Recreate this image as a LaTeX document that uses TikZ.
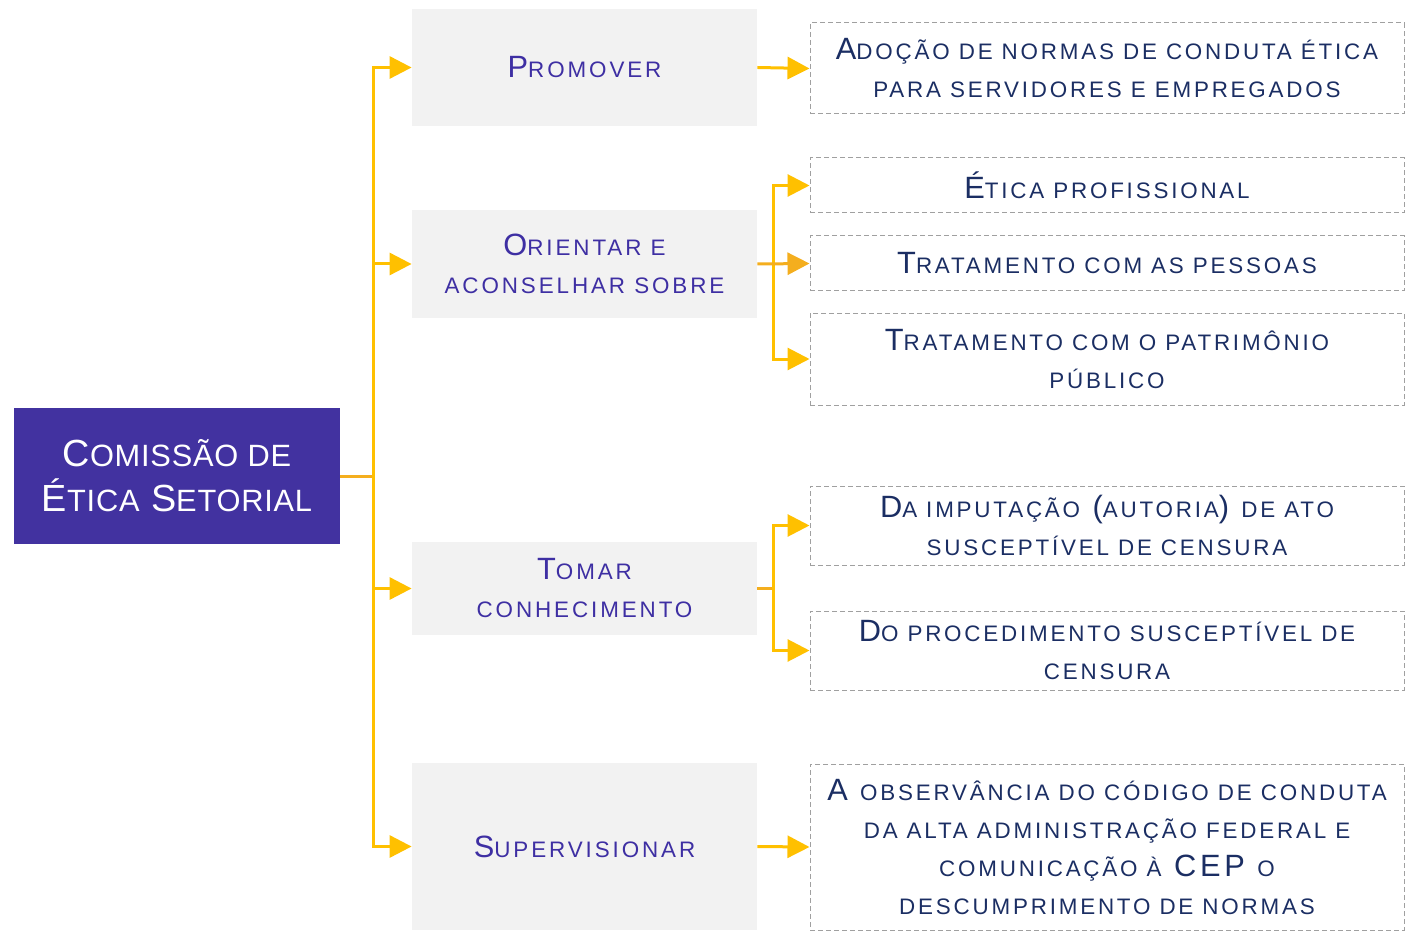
\documentclass[tikz,border=0pt]{standalone}
\usepackage{fontspec}
\setmainfont{Liberation Sans}
\newfontfamily\rootfont[LetterSpace=2.5]{Liberation Sans}
\newfontfamily\verbfont[LetterSpace=13]{Liberation Sans}
\newfontfamily\itemfont[LetterSpace=12.5]{Liberation Sans}
\usetikzlibrary{arrows.meta}

\definecolor{rootblue}{HTML}{4232A0}
\definecolor{verbtext}{HTML}{3E2FA3}
\definecolor{verbfill}{HTML}{F2F2F2}
\definecolor{itemtext}{HTML}{1B2E63}
\definecolor{itemline}{HTML}{A0A0A0}
\definecolor{linkyellow}{HTML}{FFC000}
\definecolor{linkorange}{HTML}{F4AE1E}

\newcommand{\sm}[1]{{\fontsize{11.2}{19}\selectfont #1}}
\newcommand{\smroot}[1]{{\fontsize{15.4}{22.5}\selectfont #1}}

\tikzset{
  x=0.5pt, y=-0.5pt,
  root/.style={fill=rootblue, text=white, inner sep=0pt, align=center,
    minimum width=163pt, minimum height=68pt,
    font=\rootfont\fontsize{18.9}{22.5}\selectfont},
  verb/.style={fill=verbfill, text=verbtext, inner sep=0pt, align=center,
    minimum width=172.5pt, font=\verbfont\fontsize{15.4}{19}\selectfont},
  item/.style={draw=itemline, dash pattern=on 2.5pt off 1.5pt, line width=0.5pt,
    text=itemtext, inner sep=0pt, align=center,
    minimum width=297pt, font=\itemfont\fontsize{15.4}{19}\selectfont},
  link/.style={draw=linkyellow, line width=1.5pt},
  arrow/.style={link, -{Triangle[length=11pt,width=11pt]}}
}

\begin{document}
\begin{tikzpicture}
  \useasboundingbox (0,0) rectangle (1413,941);

  \node [root] (comissao) at (177,476) {C\smroot{OMISSÃO DE}\\É\smroot{TICA} S\smroot{ETORIAL}};

  \node [verb, minimum height=58.5pt] (promover) at (584.5,67.5) {P\sm{ROMOVER}};
  \node [verb, minimum height=54pt] (orientar) at (584.5,264) {O\sm{RIENTAR E}\\\sm{ACONSELHAR SOBRE}};
  \node [verb, minimum height=46.5pt] (tomar) at (584.5,588.5) {T\sm{OMAR}\\\sm{CONHECIMENTO}};
  \node [verb, minimum height=83.5pt] (supervisionar) at (584.5,846.5) {S\sm{UPERVISIONAR}};

  \node [item, minimum height=45.5pt] (adocao) at (1107,68.5) {A\sm{DOÇÃO DE NORMAS DE CONDUTA ÉTICA}\\\sm{PARA SERVIDORES E EMPREGADOS}};
  \node [item, minimum height=27.5pt] (etica) at (1107,185.5) {É\sm{TICA PROFISSIONAL}};
  \node [item, minimum height=27.5pt] (pessoas) at (1107,263.5) {T\sm{RATAMENTO COM AS PESSOAS}};
  \node [item, minimum height=46pt] (patrimonio) at (1107,359) {T\sm{RATAMENTO COM O PATRIMÔNIO}\\\sm{PÚBLICO}};
  \node [item, minimum height=39.5pt] (imputacao) at (1107,525.5) {D\sm{A IMPUTAÇÃO} (\sm{AUTORIA}) \sm{DE ATO}\\\sm{SUSCEPTÍVEL DE CENSURA}};
  \node [item, minimum height=39.5pt] (procedimento) at (1107,650.5) {D\sm{O PROCEDIMENTO SUSCEPTÍVEL DE}\\\sm{CENSURA}};
  \node [item, minimum height=83pt] (observancia) at (1107,847) {A \sm{OBSERVÂNCIA DO CÓDIGO DE CONDUTA}\\\sm{DA ALTA ADMINISTRAÇÃO FEDERAL E}\\\sm{COMUNICAÇÃO À} CEP \sm{O}\\\sm{DESCUMPRIMENTO DE NORMAS}};

  \coordinate (trunk) at (373,476);
  \coordinate (obranch) at (773,264);
  \coordinate (tbranch) at (773,588.5);

  \draw [link, draw=linkorange] (comissao.east) -- (trunk);
  \draw [arrow] (trunk) |- (promover.west);
  \draw [arrow] (trunk) |- (orientar.west);
  \draw [arrow] (trunk) |- (tomar.west);
  \draw [arrow] (trunk) |- (supervisionar.west);

  \draw [arrow] (promover.east) -- (adocao.west);
  \draw [arrow] (obranch) |- (etica.west);
  \draw [arrow] (obranch) |- (patrimonio.west);
  \draw [arrow, draw=linkorange] (orientar.east) -- (pessoas.west);
  \draw [link, draw=linkorange] (tomar.east) -- (tbranch);
  \draw [arrow] (tbranch) |- (imputacao.west);
  \draw [arrow] (tbranch) |- (procedimento.west);
  \draw [arrow] (supervisionar.east) -- (observancia.west);
\end{tikzpicture}
\end{document}
